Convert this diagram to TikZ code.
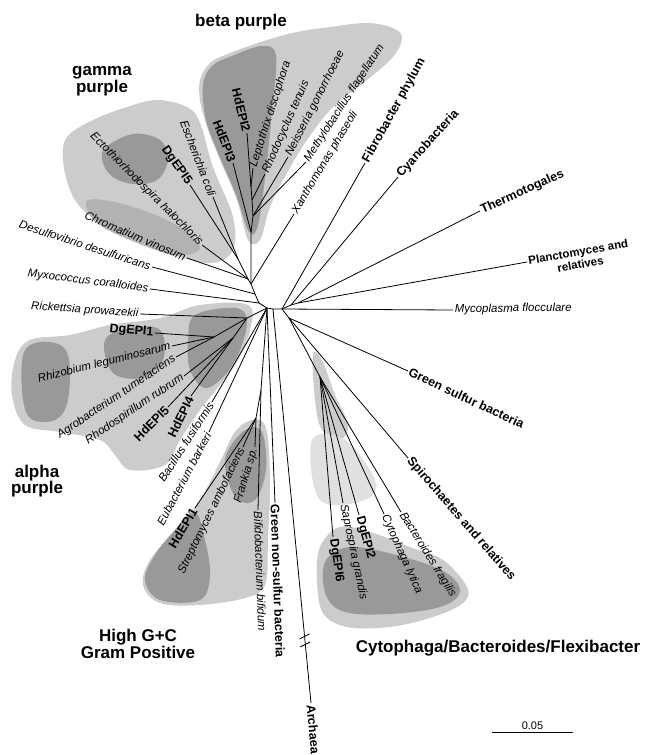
\documentclass[tikz,border=0pt]{standalone}
\usepackage{fontspec}
\setmainfont{Liberation Sans}
\usetikzlibrary{calc, positioning}

\begin{document}
\begin{tikzpicture}[x=1pt, y=-1pt,
    branch/.style={line width=0.8pt, black},
    taxon/.style={font=\fontsize{11.5}{13}\selectfont\itshape, inner sep=1.5pt},
    clone/.style={font=\fontsize{12.5}{14}\selectfont\bfseries, inner sep=1.5pt},
    phylum/.style={font=\fontsize{12.5}{14}\selectfont\bfseries, inner sep=1.5pt},
    group/.style={font=\fontsize{17}{16.5}\selectfont\bfseries, align=center, inner sep=0pt},
    haze/.style={fill=black!20},
    dense/.style={fill=black!40},
  ]
    \useasboundingbox (0,0) rectangle (645,755);
    \clip (0,0) rectangle (645,755);

    % shaded clusters
    \fill[haze] plot[smooth cycle, tension=0.6] coordinates {(200,80) (210,63) (230,53) (267,40) (297,32) (330,27) (367,23) (393,28) (402,38) (393,57) (367,80) (333,107) (307,140) (287,173) (270,207) (260,240) (248,240) (237,200) (220,160) (207,127) (200,100)};
    \fill[dense] plot[smooth cycle, tension=0.6] coordinates {(203,85) (212,66) (232,56) (262,46) (276,56) (272,110) (266,170) (258,225) (249,232) (236,195) (219,155) (206,120)};
    \fill[haze] plot[smooth cycle, tension=0.6] coordinates {(63,160) (67,137) (93,120) (127,107) (157,100) (187,107) (200,123) (213,167) (233,217) (233,250) (213,263) (180,257) (140,243) (107,227) (83,210) (70,190)};
    \fill[dense] plot[smooth cycle, tension=0.6] coordinates {(105,148) (133,134) (160,140) (168,160) (157,180) (133,184) (113,177) (103,163)};
    \fill[black!30] plot[smooth cycle, tension=0.6] coordinates {(88,200) (130,206) (178,226) (200,248) (175,255) (130,240) (96,222)};
    \fill[haze] plot[smooth cycle, tension=0.6] coordinates {(15,360) (30,340) (70,335) (110,325) (160,318) (200,305) (248,305) (250,330) (238,360) (220,385) (200,410) (180,440) (165,465) (130,470) (115,455) (100,440) (60,432) (25,425) (12,395)};
    \fill[dense] plot[smooth cycle, tension=0.6] coordinates {(25,350) (50,342) (68,355) (68,400) (55,420) (30,418) (22,390)};
    \fill[dense] plot[smooth cycle, tension=0.6] coordinates {(105,340) (130,328) (160,330) (163,360) (140,378) (112,372)};
    \fill[dense] plot[smooth cycle, tension=0.6] coordinates {(195,315) (235,308) (247,320) (240,350) (225,375) (205,388) (190,370) (188,340)};
    \fill[haze] plot[smooth cycle, tension=0.6] coordinates {(143,585) (150,560) (175,530) (200,500) (220,462) (235,432) (252,420) (266,428) (270,480) (268,540) (265,585) (245,598) (200,605) (160,603)};
    \fill[dense] plot[smooth cycle, tension=0.6] coordinates {(145,580) (155,555) (175,530) (195,512) (205,540) (210,575) (200,600) (160,600)};
    \fill[dense] plot[smooth cycle, tension=0.6] coordinates {(226,455) (245,430) (262,432) (266,470) (255,500) (238,500) (228,480)};
    \fill[haze] plot[smooth cycle, tension=0.6] coordinates {(313,355) (322,360) (335,395) (348,425) (340,440) (322,430) (315,400)};
    \fill[black!12] plot[smooth cycle, tension=0.6] coordinates {(312,440) (345,440) (375,480) (365,500) (320,500)};
    \fill[haze] plot[smooth cycle, tension=0.6] coordinates {(320,547) (340,527) (373,533) (410,547) (443,560) (467,587) (463,603) (433,617) (390,627) (347,627) (323,613) (317,580)};
    \fill[dense] plot[smooth cycle, tension=0.6] coordinates {(325,562) (350,547) (400,556) (445,572) (460,592) (440,607) (390,614) (345,612) (326,595)};

    % inner nodes
    \coordinate (cL) at (259,303);
    \coordinate (cM) at (267,308);
    \coordinate (cA) at (273,309);
    \coordinate (cR) at (282,309);
    \coordinate (P) at (251,284);
    \coordinate (Pd) at (255,294);
    \coordinate (B) at (251,232);
    \coordinate (B1) at (253,216);
    \coordinate (B2) at (252,200);
    \coordinate (B3) at (251,187);
    \coordinate (G) at (248,279);
    \coordinate (G1) at (238,259);
    \coordinate (A) at (247,318);
    \coordinate (A1) at (214,337);
    \coordinate (A2) at (233,338);
    \coordinate (Gp) at (261,390);
    \coordinate (Gp1) at (256,418);
    \coordinate (R2) at (291,305);
    \coordinate (R3) at (298,303);
    \coordinate (S) at (289,318);
    \coordinate (Cy) at (320,377);

    % beta purple
    \coordinate (hdepi3) at (233,163);
    \coordinate (hdepi2) at (247,133);
    \coordinate (lepto) at (253,168);
    \coordinate (rhodocyc) at (265,174);
    \coordinate (neiss) at (288,157);
    \coordinate (methylo) at (306,162);
    \coordinate (xantho) at (294,214);
    \node[clone, anchor=east, rotate=-69] (hdepi3-lab) at (hdepi3) {HdEPI3};
    \node[clone, anchor=east, rotate=-76] (hdepi2-lab) at (hdepi2) {HdEPI2};
    \node[taxon, anchor=west, rotate=72] (lepto-lab) at (lepto) {Leptothrix discophora};
    \node[taxon, anchor=west, rotate=66] (rhodocyc-lab) at (rhodocyc) {Rhodocyclus tenuis};
    \node[taxon, anchor=west, rotate=63] (neiss-lab) at (neiss) {Neisseria gonorrhoeae};
    \node[taxon, anchor=west, rotate=57] (methylo-lab) at (methylo) {Methylobacillus flagellatum};
    \node[taxon, anchor=west, rotate=59] (xantho-lab) at (xantho) {Xanthomonas phaseoli};

    % gamma purple
    \coordinate (ecoli) at (213,197);
    \coordinate (dgepi5) at (190,185);
    \coordinate (ecto) at (202,245);
    \coordinate (chrom) at (187,258);
    \coordinate (desulfo) at (152,267);
    \coordinate (myxo) at (150,289);
    \node[taxon, anchor=east, rotate=-69] (ecoli-lab) at (ecoli) {Escherichia coli};
    \node[clone, anchor=east, rotate=-55] (dgepi5-lab) at (dgepi5) {DgEPI5};
    \node[taxon, anchor=east, rotate=-45] (ecto-lab) at (ecto) {Ectothiorhodospira halochloris};
    \node[taxon, anchor=east, rotate=-23] (chrom-lab) at (chrom) {Chromatium vinosum};
    \node[taxon, anchor=east, rotate=-18] (desulfo-lab) at (desulfo) {Desulfovibrio desulfuricans};
    \node[taxon, anchor=east, rotate=-7] (myxo-lab) at (myxo) {Myxococcus coralloides};

    % alpha purple
    \coordinate (rick) at (140,314);
    \coordinate (dgepi1) at (155,333);
    \coordinate (rhizo) at (172,346);
    \coordinate (agro) at (176,357);
    \coordinate (rhodospir) at (184,376);
    \coordinate (hdepi5) at (168,407);
    \coordinate (hdepi4) at (191,396);
    \node[taxon, anchor=east, rotate=-4] (rick-lab) at (rick) {Rickettsia prowazekii};
    \node[clone, anchor=east, rotate=-5] (dgepi1-lab) at (dgepi1) {DgEPI1};
    \node[taxon, anchor=east, rotate=14] (rhizo-lab) at (rhizo) {Rhizobium leguminosarum};
    \node[taxon, anchor=east, rotate=34] (agro-lab) at (agro) {Agrobacterium tumefaciens};
    \node[taxon, anchor=east, rotate=34] (rhodospir-lab) at (rhodospir) {Rhodospirillum rubrum};
    \node[clone, anchor=east, rotate=45] (hdepi5-lab) at (hdepi5) {HdEPI5};
    \node[clone, anchor=east, rotate=64] (hdepi4-lab) at (hdepi4) {HdEPI4};

    % high G+C and relatives
    \coordinate (bacil) at (212,402);
    \coordinate (eubac) at (209,432);
    \coordinate (hdepi1) at (195,508);
    \coordinate (strepto) at (243,447);
    \coordinate (frankia) at (255,447);
    \coordinate (bifido) at (258,510);
    \coordinate (gns) at (275,503);
    \coordinate (arch) at (311,703);
    \node[taxon, anchor=east, rotate=57] (bacil-lab) at (bacil) {Bacillus fusiformis};
    \node[taxon, anchor=east, rotate=62] (eubac-lab) at (eubac) {Eubacterium barkeri};
    \node[clone, anchor=east, rotate=59] (hdepi1-lab) at (hdepi1) {HdEPI1};
    \node[taxon, anchor=east, rotate=64] (strepto-lab) at (strepto) {Streptomyces ambofaciens};
    \node[taxon, anchor=east, rotate=73] (frankia-lab) at (frankia) {Frankia sp.};
    \node[taxon, anchor=west, rotate=-88] (bifido-lab) at (bifido) {Bifidobacterium bifidum};
    \node[phylum, anchor=west, rotate=-88] (gns-lab) at (gns) {Green non-sulfur bacteria};
    \node[phylum, anchor=west, rotate=-85] (arch-lab) at (arch) {Archaea};

    % right-hand phyla
    \coordinate (fibro) at (365,163);
    \coordinate (cyano) at (398,177);
    \coordinate (thermo) at (480,211);
    \coordinate (plancto) at (527,262);
    \coordinate (myco) at (453,310);
    \coordinate (gsulf) at (408,371);
    \coordinate (spiro) at (408,458);
    \node[phylum, anchor=west, rotate=61] (fibro-lab) at (fibro) {Fibrobacter phylum};
    \node[phylum, anchor=west, rotate=48] (cyano-lab) at (cyano) {Cyanobacteria};
    \node[phylum, anchor=west, rotate=24] (thermo-lab) at (thermo) {Thermotogales};
    \node[phylum, anchor=west, rotate=10, font=\fontsize{11.5}{13}\selectfont\bfseries] (plancto-lab) at (plancto) {Planctomyces and};
    \node[phylum, anchor=north, rotate=10, font=\fontsize{11.5}{13}\selectfont\bfseries, inner sep=0pt] (plancto-lab2) at (plancto-lab.south) {relatives};
    \node[taxon, anchor=west, rotate=1] (myco-lab) at (myco) {Mycoplasma flocculare};
    \node[phylum, anchor=west, rotate=-25] (gsulf-lab) at (gsulf) {Green sulfur bacteria};
    \node[phylum, anchor=west, rotate=-49] (spiro-lab) at (spiro) {Spirochaetes and relatives};

    % cytophaga group
    \coordinate (dgepi6) at (333,537);
    \coordinate (sapro) at (343,503);
    \coordinate (dgepi2) at (359,515);
    \coordinate (cyto) at (384,514);
    \coordinate (bactero) at (401,512);
    \node[clone, anchor=west, rotate=-82] (dgepi6-lab) at (dgepi6) {DgEPI6};
    \node[taxon, anchor=west, rotate=-78] (sapro-lab) at (sapro) {Saprospira grandis};
    \node[clone, anchor=west, rotate=-75] (dgepi2-lab) at (dgepi2) {DgEPI2};
    \node[taxon, anchor=west, rotate=-66] (cyto-lab) at (cyto) {Cytophaga lytica};
    \node[taxon, anchor=west, rotate=-58] (bactero-lab) at (bactero) {Bacteroides fragilis};

    % branches
    \draw[branch] (P) -- (Pd) -- (cL) -- (cM) -- (cA) -- (cR);
    \draw[branch] (P) -- (B) -- (hdepi3);
    \draw[branch] (B) -- (B1) -- (B2) -- (B3) -- (hdepi2);
    \draw[branch] (B3) -- (lepto);
    \draw[branch] (B2) -- (rhodocyc);
    \draw[branch] (B1) -- (neiss);
    \draw[branch] (B1) -- (methylo);
    \draw[branch] (P) -- (xantho);
    \draw[branch] (P) -- (G) -- (G1) -- (dgepi5);
    \draw[branch] (G1) -- (ecoli);
    \draw[branch] (G) -- (ecto);
    \draw[branch] (G) -- (chrom);
    \draw[branch] (Pd) -- (desulfo);
    \draw[branch] (cL) -- (myxo);
    \draw[branch] (cM) -- (A) -- (rick);
    \draw[branch] (A) -- (A1) -- (dgepi1);
    \draw[branch] (A1) -- (rhizo);
    \draw[branch] (A1) -- (agro);
    \draw[branch] (A) -- (A2) -- (rhodospir);
    \draw[branch] (A2) -- (hdepi5);
    \draw[branch] (A2) -- (hdepi4);
    \draw[branch] (cM) -- (bacil);
    \draw[branch] (cM) -- (eubac);
    \draw[branch] (cM) -- (Gp) -- (bifido);
    \draw[branch] (Gp) -- (Gp1) -- (hdepi1);
    \draw[branch] (Gp1) -- (strepto);
    \draw[branch] (Gp1) -- (frankia);
    \draw[branch] (cM) -- (gns);
    \draw[branch] (cA) -- (arch);
    \draw[branch] ($(cA)!0.83!(arch)$) ++(-5,3) -- ++(10,-5);
    \draw[branch] ($(cA)!0.85!(arch)$) ++(-5,3) -- ++(10,-5);
    \draw[branch] (cR) -- (fibro);
    \draw[branch] (cR) -- (R2) -- (cyano);
    \draw[branch] (R2) -- (R3) -- (thermo);
    \draw[branch] (R3) -- (plancto);
    \draw[branch] (cR) -- (myco);
    \draw[branch] (cR) -- (S) -- (gsulf);
    \draw[branch] (S) -- (spiro);
    \draw[branch] (S) -- (Cy) -- (dgepi6);
    \draw[branch] (Cy) -- (sapro);
    \draw[branch] (Cy) -- (dgepi2);
    \draw[branch] (Cy) -- (cyto);
    \draw[branch] (Cy) -- (bactero);

    % group names
    \node[group] (beta) at (241,22) {beta purple};
    \node[group] (gamma) at (102,81) {gamma\\purple};
    \node[group] (alpha) at (37,481) {alpha\\purple};
    \node[group] (highgc) at (138,644) {High G+C\\Gram Positive};
    \node[group] (cytoph) at (498,648) {Cytophaga/Bacteroides/Flexibacter};

    % scale bar
    \coordinate (sb1) at (492,732);
    \coordinate (sb2) at (573,732);
    \draw[branch] (sb1) -- (sb2);
    \node[font=\fontsize{11}{13}\selectfont, anchor=south, inner sep=2pt] (sblab) at ($(sb1)!0.5!(sb2)$) {0.05};
\end{tikzpicture}
\end{document}
